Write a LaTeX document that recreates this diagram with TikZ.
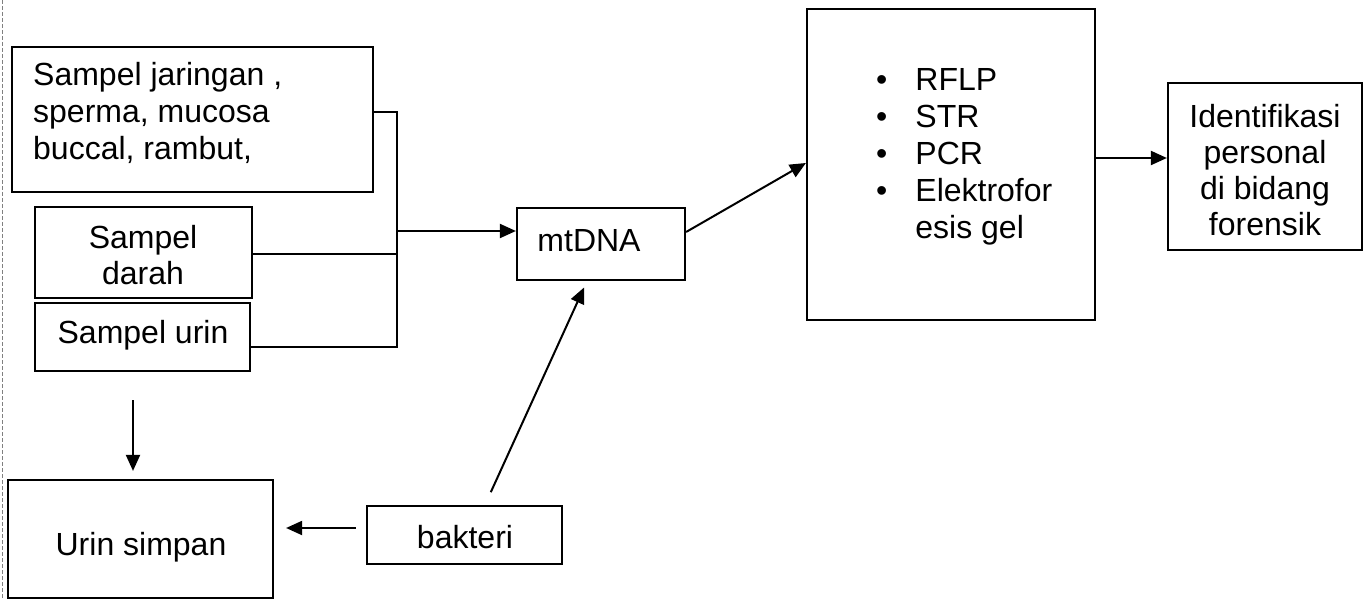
\documentclass[tikz,border=0pt]{standalone}
\usepackage{fontspec}
\setmainfont{Liberation Sans}
\usetikzlibrary{arrows.meta}
\begin{document}
\begin{tikzpicture}[x=1pt,y=-1pt,
  box/.style={draw=black,line width=2.2pt,inner sep=0pt},
  txt/.style={inner sep=0pt,font=\fontsize{32pt}{37pt}\selectfont},
  conn/.style={draw=black,line width=2pt},
  arr/.style={conn,-{Triangle[length=16pt,width=14pt]}}]
\useasboundingbox (0,0) rectangle (1369,599);
\fill[white] (0,0) rectangle (1369,599);
\draw[gray,line width=0.8pt,dash pattern=on 4pt off 2pt] (2,0) -- (2,599);
% boxes
\node[box,minimum width=361pt,minimum height=145pt] (b1) at (192.5,119.5) {};
\node[box,minimum width=217pt,minimum height=91pt] (b2) at (143.5,252.5) {};
\node[box,minimum width=215pt,minimum height=68pt] (b3) at (142.5,337) {};
\node[box,minimum width=168pt,minimum height=72pt] (mt) at (601,244) {};
\node[box,minimum width=288pt,minimum height=311pt] (big) at (951,164.5) {};
\node[box,minimum width=194pt,minimum height=167pt] (id) at (1265,166.5) {};
\node[box,minimum width=265pt,minimum height=118pt] (us) at (140.5,539) {};
\node[box,minimum width=195pt,minimum height=58pt] (bk) at (464.5,535) {};
% texts
\node[txt,anchor=west,align=left] (t1) at (33,113) {Sampel jaringan ,\\sperma, mucosa\\buccal, rambut,};
\node[txt,align=center,font=\fontsize{32pt}{36pt}\selectfont] (t2) at (143,255) {Sampel\\darah};
\node[txt] (t3) at (143,335) {Sampel urin};
\node[txt] (tm) at (589,241) {mtDNA};
\node[txt,anchor=west] (tb) at (876,157) {\renewcommand\arraystretch{1}\begin{tabular}{@{}l@{\hspace{28pt}}l@{}}\textbullet & RFLP\\ \textbullet & STR\\ \textbullet & PCR\\ \textbullet & Elektrofor\\ & esis gel\end{tabular}};
\node[txt,align=center,font=\fontsize{32pt}{36pt}\selectfont] (ti) at (1265,170) {Identifikasi\\personal\\di bidang\\forensik};
\node[txt] (tu) at (141,547) {Urin simpan};
\node[txt] (tk) at (465,537) {bakteri};
% connectors
\coordinate (j1) at (397,112);
\coordinate (j2) at (397,254);
\coordinate (j3) at (397,347);
\coordinate (ja) at (397,231);
\draw[conn] (b1.east |- j1) -- (j1) -- (j3) -- (b3.east |- j3);
\draw[conn] (b2.east |- j2) -- (j2);
\draw[arr] (ja) -- (mt.west |- ja);
\coordinate (m1) at (686,232);
\coordinate (m2) at (807,163);
\draw[arr] (mt.east |- m1) -- (big.west |- m2);
\coordinate (g1) at (1095,158);
\draw[arr] (big.east |- g1) -- (id.west |- g1);
\coordinate (dx) at (133,0);
\draw[arr,shorten <=28pt,shorten >=8pt] (b3.south -| dx) -- (us.north -| dx);
\coordinate (hy) at (0,528);
\draw[arr,shorten <=10pt,shorten >=12pt] (bk.west |- hy) -- (us.east |- hy);
\coordinate (k1) at (485,0);
\coordinate (k2) at (587,0);
\draw[arr,shorten <=14pt,shorten >=7pt] (bk.north -| k1) -- (mt.south -| k2);
\end{tikzpicture}
\end{document}
